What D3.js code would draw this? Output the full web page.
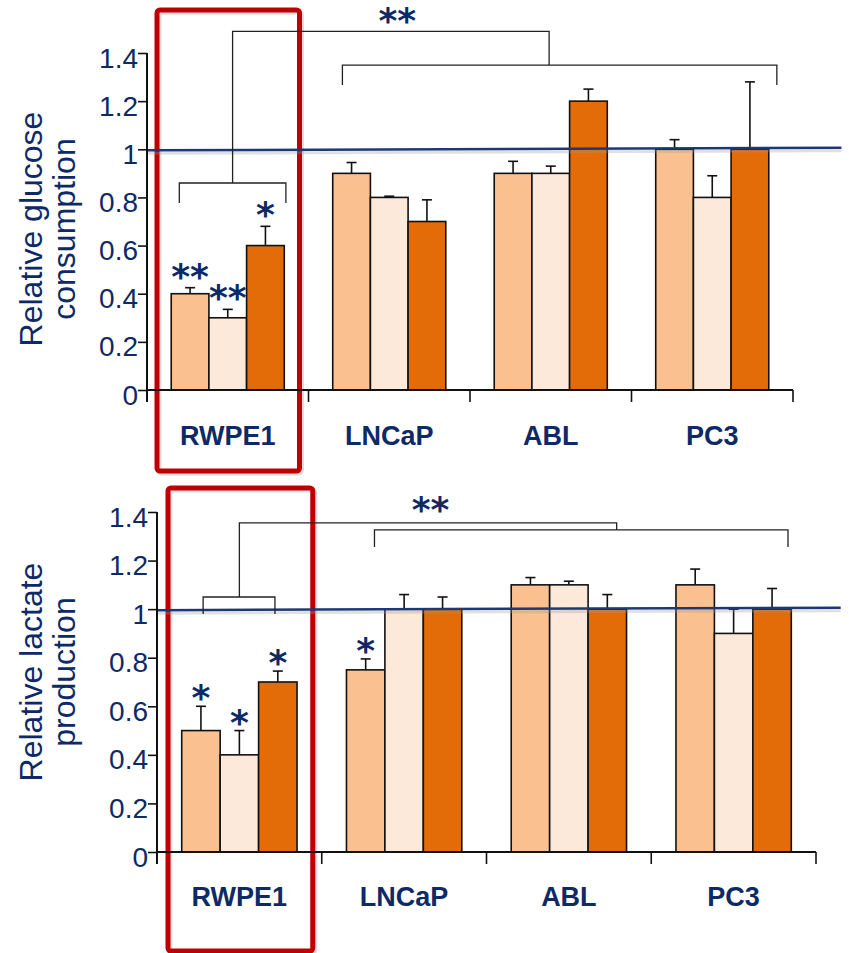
<!DOCTYPE html>
<html>
<head>
<meta charset="utf-8">
<script src="https://cdn.jsdelivr.net/npm/d3@7"></script>
<style>
  html, body { margin: 0; padding: 0; background: #fff; }
  svg { display: block; }
</style>
</head>
<body>
<svg id="chart"></svg>
<script>
// data
const categories = ["RWPE1", "LNCaP", "ABL", "PC3"];
const yTicks = [0, 0.2, 0.4, 0.6, 0.8, 1, 1.2, 1.4];

const glucoseS1 = [0.4, 0.9, 0.9, 1.0];
const glucoseS2 = [0.3, 0.8, 0.9, 0.8];
const glucoseS3 = [0.6, 0.7, 1.2, 1.0];
const glucoseErr1 = [0.025, 0.045, 0.05, 0.04];
const glucoseErr2 = [0.035, 0.005, 0.03, 0.09];
const glucoseErr3 = [0.08, 0.09, 0.05, 0.28];
const glucoseStars = ["**", "**", "*"];          // RWPE1, one per series

const lactateS1 = [0.5, 0.75, 1.1, 1.1];
const lactateS2 = [0.4, 1.0, 1.1, 0.9];
const lactateS3 = [0.7, 1.0, 1.0, 1.0];
const lactateErr1 = [0.1, 0.045, 0.03, 0.065];
const lactateErr2 = [0.1, 0.06, 0.015, 0.1];
const lactateErr3 = [0.045, 0.05, 0.06, 0.085];
const lactateStars = ["*", "*", "*"];            // RWPE1
const lactateStarsLNCaP = ["*", "", ""];

const seriesColors = ["#FAC090", "#FDE9D9", "#E36C09"];
const textColor = "#0d2a66";
const refColor = "#1c3876";

var svg = d3.select("#chart").attr("width", 849).attr("height", 953);

function drawPanel(o) {
    var g = svg.append("g");

    var x = d3.scaleBand().domain(categories).range([o.left, o.right]);
    var xi = d3.scaleLinear().domain([0, categories.length]).range([o.left, o.right]);
    var xs = d3.scaleBand().domain([0, 1, 2]).range([x.bandwidth() * 0.15, x.bandwidth() * 0.85]);
    var y = d3.scaleLinear().domain([0, 1.4]).range([o.bottom, o.top]);

    var rows = [];
    categories.forEach((c, i) => {
        o.values.forEach((arr, s) => {
            rows.push({ c: c, s: s, v: arr[i], e: o.errs[s][i], star: (o.stars[c] || [])[s] || "" });
        });
    });

    // red highlight box around the first group
    g.append("rect")
        .attr("x", x(categories[0]) + o.box[0] + 2)
        .attr("y", o.box[2] + 2)
        .attr("width", x.bandwidth() - o.box[0] - o.box[1])
        .attr("height", o.box[3] - o.box[2])
        .attr("rx", 3)
        .attr("fill", "none")
        .attr("stroke", "#bbb")
        .attr("stroke-opacity", 0.5)
        .attr("stroke-width", 5);
    g.append("rect")
        .attr("x", x(categories[0]) + o.box[0])
        .attr("y", o.box[2])
        .attr("width", x.bandwidth() - o.box[0] - o.box[1])
        .attr("height", o.box[3] - o.box[2])
        .attr("rx", 3)
        .attr("fill", "none")
        .attr("stroke", "#C00000")
        .attr("stroke-width", 5);

    // error bars
    var eb = g.selectAll(".eb").data(rows).enter().append("g");
    eb.append("line")
        .attr("x1", d => x(d.c) + xs(d.s) + xs.bandwidth() / 2)
        .attr("x2", d => x(d.c) + xs(d.s) + xs.bandwidth() / 2)
        .attr("y1", d => y(d.v))
        .attr("y2", d => y(d.v + d.e))
        .attr("stroke", "#111").attr("stroke-width", 1.6);
    eb.append("line")
        .attr("x1", d => x(d.c) + xs(d.s) + xs.bandwidth() / 2 - 5)
        .attr("x2", d => x(d.c) + xs(d.s) + xs.bandwidth() / 2 + 5)
        .attr("y1", d => y(d.v + d.e))
        .attr("y2", d => y(d.v + d.e))
        .attr("stroke", "#111").attr("stroke-width", 1.6);

    g.selectAll(".bar").data(rows).enter().append("rect")
        .attr("x", d => x(d.c) + xs(d.s))
        .attr("y", d => y(d.v))
        .attr("width", xs.bandwidth())
        .attr("height", d => y(0) - y(d.v))
        .attr("fill", d => seriesColors[d.s])
        .attr("stroke", "#111")
        .attr("stroke-width", 1.6);

    // significance stars over bars
    g.selectAll(".star").data(rows.filter(d => d.star)).enter().append("text")
        .attr("x", d => x(d.c) + xs(d.s) + xs.bandwidth() / 2)
        .attr("y", d => y(d.v + d.e) + o.starOffset)
        .attr("text-anchor", "middle")
        .attr("font-family", "DejaVu Sans")
        .attr("font-weight", "bold")
        .attr("font-size", 36)
        .attr("fill", textColor)
        .text(d => d.star);

    // reference line at 1, with a soft shadow
    g.append("line")
        .attr("x1", o.left + 1).attr("x2", xi(o.refEnd))
        .attr("y1", y(1) + 4).attr("y2", y(1) + 1.5)
        .attr("stroke", "#999").attr("stroke-opacity", 0.3).attr("stroke-width", 3);
    g.append("line")
        .attr("x1", o.left + 1).attr("x2", xi(o.refEnd))
        .attr("y1", y(1) + 1).attr("y2", y(1) - 1.5)
        .attr("stroke", refColor).attr("stroke-width", 2.5);

    // y axis
    var yAxis = g.append("g")
        .attr("transform", `translate(${o.left},0)`)
        .call(d3.axisLeft(y).tickValues(yTicks).tickSize(9).tickPadding(0)
            .tickFormat(v => String(+v.toFixed(1))));
    yAxis.select(".domain").remove();
    yAxis.selectAll(".tick line").attr("stroke", "#111").attr("stroke-width", 1.6);
    yAxis.selectAll("text")
        .attr("font-family", "Liberation Sans")
        .attr("font-size", 28)
        .attr("fill", textColor)
        .attr("dy", "0.5em");
    g.append("line")
        .attr("x1", o.left).attr("x2", o.left)
        .attr("y1", y(1.4)).attr("y2", y(0) + 12)
        .attr("stroke", "#111").attr("stroke-width", 2);

    // x axis with ticks on group boundaries
    g.append("line")
        .attr("x1", o.left).attr("x2", o.right)
        .attr("y1", y(0)).attr("y2", y(0))
        .attr("stroke", "#111").attr("stroke-width", 2);
    g.selectAll(".xt").data(d3.range(categories.length + 1)).enter().append("line")
        .attr("x1", d => xi(d)).attr("x2", d => xi(d))
        .attr("y1", y(0)).attr("y2", y(0) + 12)
        .attr("stroke", "#111").attr("stroke-width", 1.6);
    g.selectAll(".xl").data(categories).enter().append("text")
        .attr("x", d => x(d) + x.bandwidth() / 2)
        .attr("y", o.labelY)
        .attr("text-anchor", "middle")
        .attr("font-family", "Liberation Sans")
        .attr("font-weight", "bold")
        .attr("font-size", 27)
        .attr("fill", textColor)
        .text(d => d);

    // axis title
    o.title.forEach((t, i) => {
        g.append("text")
            .attr("transform", `translate(${42 + i * 33},${o.titleY}) rotate(-90)`)
            .attr("text-anchor", "middle")
            .attr("font-family", "Liberation Sans")
            .attr("font-size", 32)
            .attr("fill", textColor)
            .text(t);
    });

    // comparison brackets
    var b = o.bracket;
    var path = d3.path();
    path.moveTo(xi(b.small[0]), y(b.smallY) + b.leg);
    path.lineTo(xi(b.small[0]), y(b.smallY));
    path.lineTo(xi(b.small[1]), y(b.smallY));
    path.lineTo(xi(b.small[1]), y(b.smallY) + b.leg);
    path.moveTo(xi(b.join[0]), y(b.smallY));
    path.lineTo(xi(b.join[0]), y(b.topY));
    path.lineTo(xi(b.join[1]), y(b.topY));
    path.lineTo(xi(b.join[1]), y(b.bigY));
    path.moveTo(xi(b.big[0]), y(b.bigY) + b.leg);
    path.lineTo(xi(b.big[0]), y(b.bigY));
    path.lineTo(xi(b.big[1]), y(b.bigY));
    path.lineTo(xi(b.big[1]), y(b.bigY) + b.leg);
    g.append("path")
        .attr("d", path.toString())
        .attr("fill", "none")
        .attr("stroke", "#222")
        .attr("stroke-width", 1.3);
    g.append("text")
        .attr("x", xi(b.starX)).attr("y", y(b.starY))
        .attr("text-anchor", "middle")
        .attr("font-family", "DejaVu Sans")
        .attr("font-weight", "bold")
        .attr("font-size", 36)
        .attr("fill", textColor)
        .text("**");
}

drawPanel({
    left: 147, right: 793, top: 53, bottom: 390,
    values: [glucoseS1, glucoseS2, glucoseS3],
    errs: [glucoseErr1, glucoseErr2, glucoseErr3],
    stars: { RWPE1: glucoseStars },
    starOffset: 1,
    refEnd: 4.3,
    labelY: 445,
    title: ["Relative glucose", "consumption"],
    titleY: 229,
    box: [10, 9, 10, 471],
    bracket: {
        small: [0.2, 0.86], smallY: 0.86, leg: 20,
        join: [0.53, 2.49], topY: 1.49,
        big: [1.21, 3.9], bigY: 1.35,
        starX: 1.55, starY: 1.485
    }
});

drawPanel({
    left: 157, right: 816, top: 512, bottom: 852,
    values: [lactateS1, lactateS2, lactateS3],
    errs: [lactateErr1, lactateErr2, lactateErr3],
    stars: { RWPE1: lactateStars, LNCaP: lactateStarsLNCaP },
    starOffset: 4,
    refEnd: 4.15,
    labelY: 906,
    title: ["Relative lactate", "production"],
    titleY: 672,
    box: [11, 9, 488, 951],
    bracket: {
        small: [0.28, 0.716], smallY: 1.05, leg: 17,
        join: [0.5, 2.79], topY: 1.355,
        big: [1.32, 3.83], bigY: 1.326,
        starX: 1.66, starY: 1.36
    }
});
</script>
</body>
</html>
